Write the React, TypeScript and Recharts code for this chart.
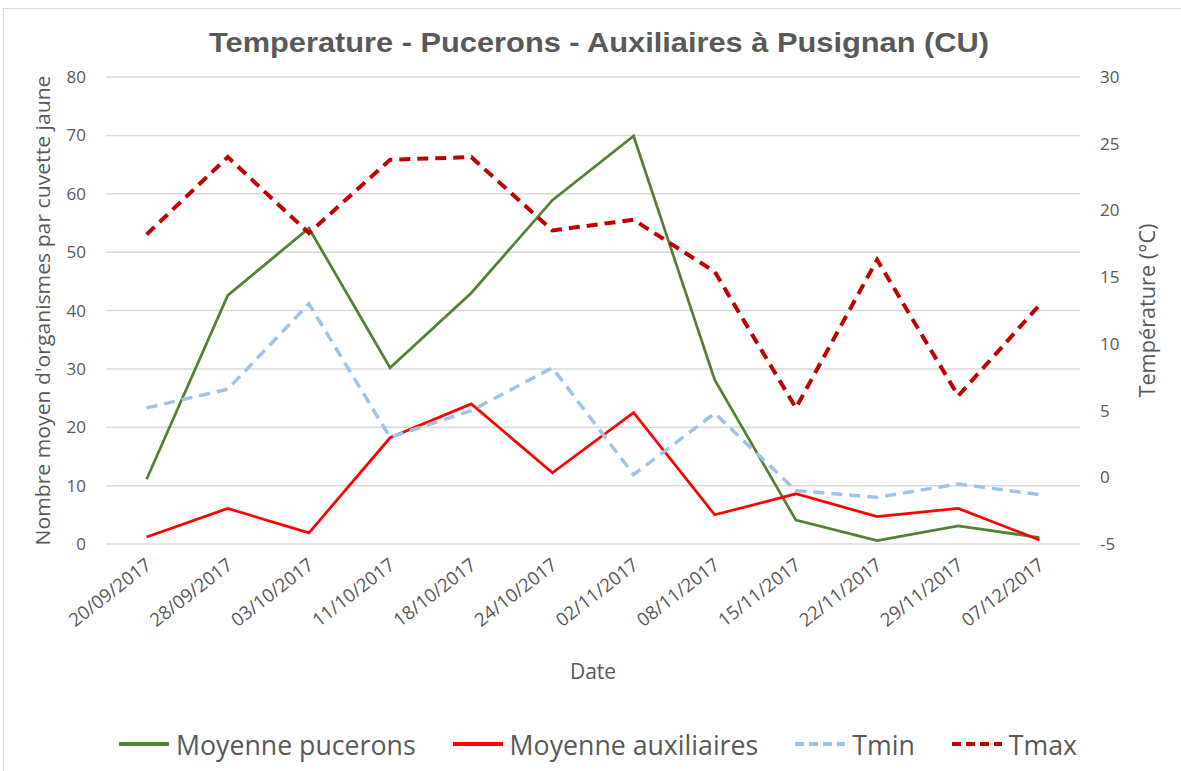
import React from 'react';
import { LineChart, Line, XAxis, YAxis, CartesianGrid, Legend, Label, Customized } from 'recharts';

const dates = ['20/09/2017', '28/09/2017', '03/10/2017', '11/10/2017', '18/10/2017', '24/10/2017', '02/11/2017', '08/11/2017', '15/11/2017', '22/11/2017', '29/11/2017', '07/12/2017'];
const pucerons = [11.1, 42.6, 54.1, 30.2, 43.0, 58.9, 69.9, 28.1, 4.1, 0.6, 3.1, 1.1];
const auxiliaires = [1.2, 6.1, 1.9, 18.2, 24.0, 12.2, 22.5, 5.0, 8.6, 4.7, 6.1, 0.7];
const tmin = [5.2, 6.6, 13.0, 3.0, 5.0, 8.2, 0.2, 4.8, -1.0, -1.5, -0.5, -1.3];
const tmax = [18.2, 24.0, 18.3, 23.8, 24.0, 18.5, 19.3, 15.4, 5.2, 16.3, 6.1, 12.9];
const leftTicks = [0, 10, 20, 30, 40, 50, 60, 70, 80];
const rightTicks = [-5, 0, 5, 10, 15, 20, 25, 30];

const data = dates.map((d, i) => ({
  date: d,
  pucerons: pucerons[i],
  auxiliaires: auxiliaires[i],
  tmin: tmin[i],
  tmax: tmax[i],
}));

const TEXT = '#595959';
const FONT = '"Open Sans", sans-serif';

const legendItems = [
  { label: 'Moyenne pucerons', color: '#548235', dash: '' },
  { label: 'Moyenne auxiliaires', color: '#ff0000', dash: '' },
  { label: 'Tmin', color: '#9dc3e6', dash: '9 5' },
  { label: 'Tmax', color: '#c00000', dash: '9 5' },
];

const LegendContent = () => (
  <div style={{ height: 54, display: 'flex', alignItems: 'center', justifyContent: 'center', fontFamily: FONT, fontSize: 26.7, color: TEXT, gap: 36, paddingLeft: 14, boxSizing: 'border-box' }}>
    {legendItems.map((it) => (
      <div key={it.label} style={{ display: 'flex', alignItems: 'center' }}>
        <svg width={52} height={10} style={{ marginRight: 6 }}>
          <line x1={1} y1={5} x2={51} y2={5} stroke={it.color} strokeWidth={4} strokeDasharray={it.dash || undefined} />
        </svg>
        <span>{it.label}</span>
      </div>
    ))}
  </div>
);

const XTick = (props: any) => {
  const { x, y, payload } = props;
  return (
    <g transform={`translate(${x + 2},${y + 16})`}>
      <text textAnchor="end" transform="rotate(-38)" dy="0.35em" fill={TEXT} fontFamily={FONT} fontSize={18.5}>
        {payload.value}
      </text>
    </g>
  );
};

const Title = () => (
  <text x={599} y={52} textAnchor="middle" fill={TEXT} fontFamily='"Liberation Sans", Arial, sans-serif' fontWeight="bold" fontSize={28} textLength={780} lengthAdjust="spacingAndGlyphs">
    Temperature - Pucerons - Auxiliaires à Pusignan (CU)
  </text>
);

export default function App() {
  return (
    <div style={{ position: 'absolute', left: 0, top: 0, width: 1181, height: 771, overflow: 'hidden', background: '#fff' }}>
      <div style={{ position: 'absolute', left: 3, top: 8, width: 1300, height: 900, border: '1px solid #d9d9d9' }} />
      <div style={{ position: 'absolute', left: 0, top: 0 }}>
        <LineChart width={1181} height={771} data={data} margin={{ top: 77, right: 0, bottom: 0, left: 0 }}>
          <CartesianGrid yAxisId="left" vertical={false} stroke="#d9d9d9" strokeWidth={1.5} />
          <XAxis dataKey="date" interval={0} axisLine={false} tickLine={false} tickSize={0} height={173} padding={{ left: 40.6, right: 40.6 }} tick={<XTick />}>
            <Label value="Date" position="insideBottom" offset={38} fill={TEXT} fontFamily={FONT} fontSize={21} />
          </XAxis>
          <YAxis yAxisId="left" orientation="left" width={106} domain={[0, 80]} ticks={leftTicks} interval={0} axisLine={false} tickLine={false} tickSize={0} tickMargin={20} tick={{ fill: TEXT, fontFamily: FONT, fontSize: 17 }}>
            <Label
              content={(p: any) => {
                const vb = p.viewBox;
                const cx = vb.x + 42;
                const cy = vb.y + vb.height / 2;
                return (
                  <text x={cx} y={cy} transform={`rotate(-90, ${cx}, ${cy})`} textAnchor="middle" dominantBaseline="central" fill={TEXT} fontFamily={FONT} fontSize={20} textLength={470} lengthAdjust="spacingAndGlyphs">
                    Nombre moyen d'organismes par cuvette jaune
                  </text>
                );
              }}
            />
          </YAxis>
          <YAxis yAxisId="right" orientation="right" width={101} domain={[-5, 30]} ticks={rightTicks} interval={0} axisLine={false} tickLine={false} tickSize={0} tickMargin={20} tick={{ fill: TEXT, fontFamily: FONT, fontSize: 17 }}>
            <Label
              content={(p: any) => {
                const vb = p.viewBox;
                const cx = vb.x + 67;
                const cy = vb.y + vb.height / 2;
                return (
                  <text x={cx} y={cy} transform={`rotate(-90, ${cx}, ${cy})`} textAnchor="middle" dominantBaseline="central" fill={TEXT} fontFamily={FONT} fontSize={21} textLength={174} lengthAdjust="spacingAndGlyphs">
                    Température (°C)
                  </text>
                );
              }}
            />
          </YAxis>
          <Legend verticalAlign="bottom" content={<LegendContent />} />
          <Line yAxisId="left" type="linear" dataKey="pucerons" name="Moyenne pucerons" stroke="#548235" strokeWidth={2.75} dot={false} isAnimationActive={false} />
          <Line yAxisId="left" type="linear" dataKey="auxiliaires" name="Moyenne auxiliaires" stroke="#ff0000" strokeWidth={2.75} dot={false} isAnimationActive={false} />
          <Line yAxisId="right" type="linear" dataKey="tmin" name="Tmin" stroke="#9dc3e6" strokeWidth={3.5} strokeDasharray="11 7" dot={false} isAnimationActive={false} />
          <Line yAxisId="right" type="linear" dataKey="tmax" name="Tmax" stroke="#c00000" strokeWidth={4} strokeDasharray="11 7" dot={false} isAnimationActive={false} />
          <Customized component={<Title />} />
        </LineChart>
      </div>
    </div>
  );
}
